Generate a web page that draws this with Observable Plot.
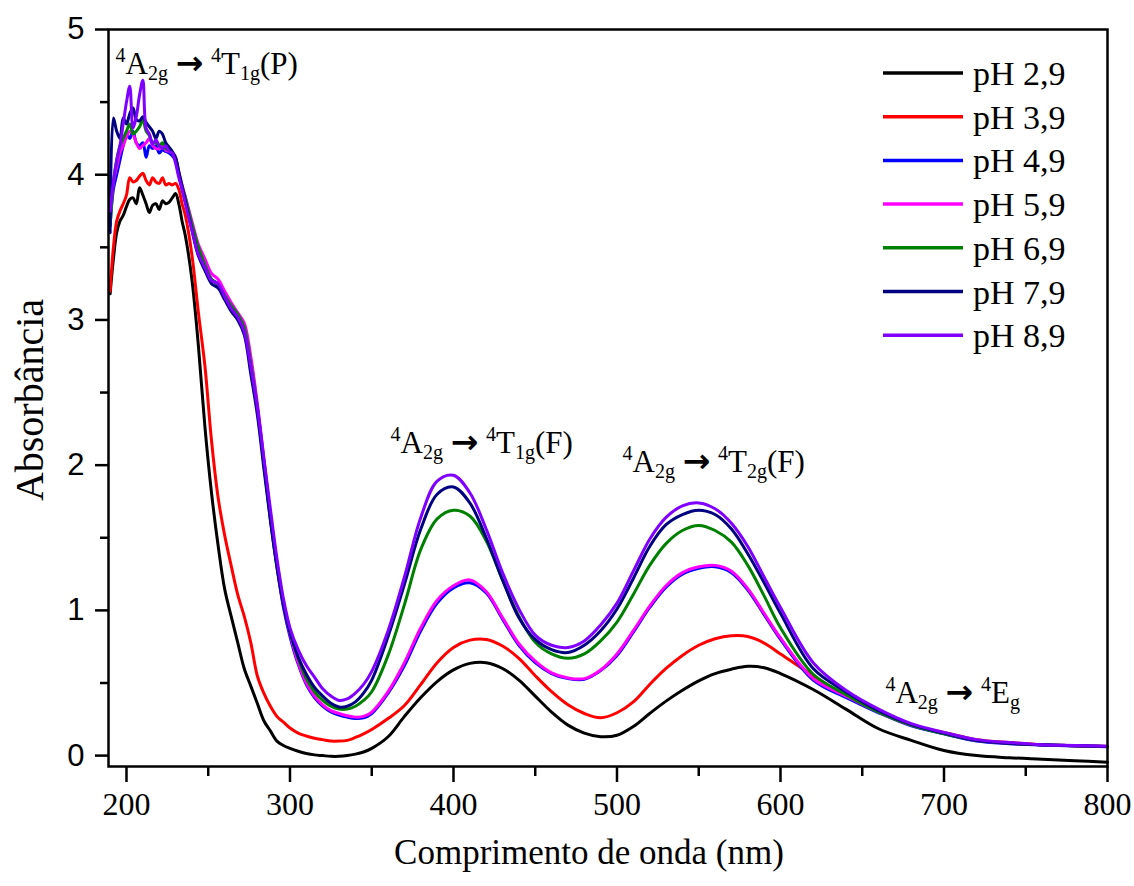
<!DOCTYPE html>
<html><head><meta charset="utf-8">
<script src="https://cdn.jsdelivr.net/npm/d3@7"></script>
<script src="https://cdn.jsdelivr.net/npm/@observablehq/plot@0.6"></script>
<style>body{margin:0;background:#fff}</style>
</head><body><div id="chart"></div>
<script>
const wavelength = [190,192,194,196,198,200,202,204,206,208,
210,212,214,216,218,220,222,224,226,228,
230,232,234,236,240,244,248,252,256,260,
264,268,272,276,280,284,288,292,296,300,
305,310,315,320,325,330,335,340,345,350,
360,370,380,390,400,410,420,430,440,450,
460,470,480,490,500,510,520,530,540,550,
560,570,580,590,600,620,640,660,680,700,
720,740,760,780,800];

const pH29 = [3.18,3.42,3.60,3.68,3.72,3.78,3.83,3.84,3.80,3.91,
3.86,3.80,3.74,3.79,3.80,3.76,3.82,3.80,3.81,3.84,
3.87,3.80,3.68,3.58,3.28,2.82,2.26,1.81,1.45,1.15,
0.96,0.78,0.60,0.48,0.36,0.24,0.17,0.10,0.07,0.05,
0.03,0.015,0.005,0.0,-0.005,-0.005,0.0,0.01,0.025,0.05,
0.13,0.27,0.40,0.51,0.59,0.635,0.64,0.60,0.52,0.41,
0.30,0.21,0.155,0.13,0.14,0.20,0.29,0.375,0.45,0.515,
0.565,0.595,0.615,0.605,0.565,0.455,0.32,0.185,0.105,0.035,
0.0,-0.015,-0.025,-0.035,-0.045];

const pH39 = [3.20,3.50,3.68,3.75,3.80,3.86,3.98,3.95,3.96,3.99,
4.01,3.96,3.93,3.98,3.95,3.94,3.98,3.93,3.94,3.93,
3.94,3.90,3.80,3.72,3.45,3.05,2.68,2.17,1.78,1.52,
1.31,1.11,0.96,0.78,0.55,0.43,0.34,0.27,0.23,0.19,
0.155,0.135,0.12,0.11,0.10,0.10,0.105,0.125,0.15,0.18,
0.255,0.345,0.49,0.64,0.745,0.795,0.80,0.755,0.67,0.55,
0.44,0.35,0.29,0.26,0.295,0.37,0.49,0.60,0.69,0.76,
0.805,0.825,0.82,0.775,0.70,0.55,0.41,0.30,0.21,0.16,
0.11,0.09,0.075,0.068,0.063];

const pH49 = [3.65,3.90,4.00,4.10,4.20,4.28,4.25,4.30,4.22,4.20,
4.22,4.12,4.20,4.18,4.20,4.15,4.17,4.16,4.15,4.13,
4.10,4.00,3.90,3.82,3.64,3.48,3.38,3.28,3.25,3.17,
3.10,3.03,2.95,2.72,2.40,2.02,1.63,1.30,1.02,0.82,
0.63,0.49,0.40,0.34,0.30,0.28,0.265,0.255,0.26,0.29,
0.43,0.62,0.86,1.05,1.155,1.19,1.12,0.94,0.76,0.64,
0.565,0.53,0.525,0.585,0.69,0.85,1.02,1.16,1.25,1.29,
1.30,1.26,1.14,0.97,0.80,0.52,0.40,0.295,0.205,0.15,
0.10,0.082,0.072,0.066,0.061];

const pH59 = [3.70,3.95,4.05,4.15,4.20,4.26,4.30,4.28,4.22,4.18,
4.20,4.22,4.25,4.20,4.18,4.18,4.20,4.17,4.16,4.15,
4.12,4.02,3.93,3.85,3.68,3.52,3.42,3.32,3.28,3.20,
3.12,3.05,2.98,2.75,2.43,2.05,1.66,1.32,1.04,0.84,
0.64,0.50,0.41,0.35,0.31,0.29,0.275,0.265,0.27,0.30,
0.44,0.64,0.88,1.07,1.17,1.21,1.13,0.95,0.77,0.65,
0.57,0.535,0.53,0.59,0.70,0.86,1.03,1.17,1.26,1.30,
1.31,1.27,1.15,0.98,0.81,0.53,0.41,0.30,0.21,0.155,
0.105,0.085,0.075,0.068,0.063];

const pH69 = [3.65,3.95,4.10,4.20,4.25,4.30,4.35,4.28,4.30,4.33,
4.38,4.30,4.27,4.22,4.22,4.20,4.22,4.18,4.17,4.15,
4.10,4.00,3.92,3.84,3.66,3.50,3.38,3.28,3.24,3.17,
3.10,3.04,2.95,2.70,2.40,2.02,1.66,1.33,1.06,0.86,
0.67,0.53,0.44,0.38,0.34,0.32,0.32,0.34,0.38,0.44,
0.69,1.04,1.42,1.63,1.69,1.65,1.48,1.21,0.96,0.78,
0.70,0.67,0.70,0.79,0.92,1.11,1.31,1.46,1.55,1.585,
1.55,1.47,1.31,1.10,0.88,0.56,0.42,0.30,0.21,0.15,
0.105,0.085,0.075,0.068,0.063];

const pH79 = [3.60,4.39,4.30,4.25,4.39,4.35,4.42,4.46,4.38,4.37,
4.40,4.36,4.33,4.30,4.25,4.30,4.28,4.22,4.19,4.16,
4.12,4.02,3.92,3.82,3.62,3.44,3.34,3.25,3.22,3.14,
3.06,3.00,2.90,2.63,2.35,1.98,1.62,1.30,1.04,0.85,
0.68,0.56,0.47,0.41,0.36,0.335,0.34,0.37,0.43,0.52,
0.82,1.18,1.56,1.80,1.85,1.74,1.50,1.21,0.95,0.80,
0.73,0.71,0.76,0.86,1.01,1.22,1.44,1.59,1.66,1.69,
1.66,1.56,1.39,1.19,0.98,0.60,0.44,0.31,0.215,0.155,
0.105,0.085,0.075,0.068,0.063];

const pH89 = [3.75,3.95,4.10,4.20,4.35,4.50,4.61,4.32,4.40,4.55,
4.65,4.32,4.28,4.21,4.24,4.20,4.18,4.20,4.16,4.15,
4.08,3.98,3.90,3.80,3.62,3.45,3.36,3.27,3.25,3.16,
3.08,3.02,2.92,2.68,2.40,2.05,1.70,1.36,1.08,0.88,
0.73,0.62,0.54,0.46,0.41,0.38,0.39,0.43,0.49,0.58,
0.86,1.23,1.64,1.89,1.93,1.81,1.56,1.26,1.01,0.83,
0.76,0.745,0.79,0.90,1.05,1.27,1.49,1.64,1.72,1.74,
1.70,1.60,1.44,1.23,1.02,0.64,0.45,0.32,0.22,0.16,
0.11,0.09,0.075,0.07,0.065];

const seriesNames = ["pH 2,9","pH 3,9","pH 4,9","pH 5,9","pH 6,9","pH 7,9","pH 8,9"];
const seriesValues = [pH29, pH39, pH49, pH59, pH69, pH79, pH89];
const seriesColors = ["#000000","#ff0000","#0000ff","#ff00ff","#008000","#000080","#8000ff"];

const xTicks = [200,300,400,500,600,700,800];
const xMinorTicks = [250,350,450,550,650,750];
const yTicks = [0,1,2,3,4,5];
const yMinorTicks = [0.5,1.5,2.5,3.5,4.5];

const annotationText = ["^{4}A_{2g} → ^{4}T_{1g}(P)","^{4}A_{2g} → ^{4}T_{1g}(F)","^{4}A_{2g} → ^{4}T_{2g}(F)","^{4}A_{2g} → ^{4}E_{g}"];
const annotationX = [193.3, 361.5, 503.4, 664.2];
const annotationY = [4.697, 2.087, 1.950, 0.359];

const xTitle = "Comprimento de onda (nm)";
const yTitle = "Absorbância";

const table = seriesNames.flatMap((name, i) =>
  wavelength.map((w, j) => ({wl: w, A: seriesValues[i][j], series: name})));

const W = 1134, H = 886, mL = 108, mR = 27, mT = 29, mB = 120;
const serif = "Liberation Serif, Times New Roman, serif";
const sans = "Liberation Sans, Arial, sans-serif";

const svg = Plot.plot({
  width: W, height: H,
  marginLeft: mL, marginRight: mR, marginTop: mT, marginBottom: mB,
  style: {background: "#fff", overflow: "visible"},
  x: {domain: [189, 800]},
  y: {domain: [-0.075, 5]},
  color: {domain: seriesNames, range: seriesColors},
  marks: [
    Plot.line(table, {x: "wl", y: "A", z: "series", stroke: "series", strokeWidth: 3, curve: "catmull-rom"}),
    Plot.text(d3.range(annotationText.length), {
      x: i => annotationX[i], y: i => annotationY[i], text: i => annotationText[i],
      textAnchor: "start", lineAnchor: "bottom", fontFamily: serif, fontSize: 31, fill: "black"
    }),
    Plot.axisX({ticks: xTicks, tickSize: 16, tickPadding: 10, fontSize: 32, fontFamily: serif, strokeWidth: 2.5, label: null, tickFormat: d => String(d)}),
    Plot.axisX({ticks: xMinorTicks, tickSize: 10, strokeWidth: 2.5, label: null, tickFormat: () => ""}),
    Plot.axisY({ticks: yTicks, tickSize: 13, tickPadding: 11, fontSize: 31, fontFamily: sans, strokeWidth: 2.5, label: null, tickFormat: d => String(d)}),
    Plot.axisY({ticks: yMinorTicks, tickSize: 8, strokeWidth: 2.5, label: null, tickFormat: () => ""}),
    Plot.frame({stroke: "black", strokeWidth: 2.5})
  ]
});

// rich text (super/subscripts) for annotations
const NS = "http://www.w3.org/2000/svg";
function richText(el, src) {
  const base = 31, small = 20;
  el.textContent = "";
  const re = /\^\{([^}]*)\}|_\{([^}]*)\}|(→)|([^^_→]+)/g;
  let m, cur = 0;
  while ((m = re.exec(src))) {
    let target = 0, size = base, content, fam = null, weight = null;
    if (m[1] != null) { target = -12; size = small; content = m[1]; }
    else if (m[2] != null) { target = 6; size = small; content = m[2]; }
    else if (m[3] != null) { content = "\u2192"; fam = "DejaVu Sans, sans-serif"; weight = "bold"; size = 33; }
    else content = m[4];
    const t = document.createElementNS(NS, "tspan");
    t.setAttribute("dy", target - cur); cur = target;
    t.setAttribute("font-size", size);
    if (fam) t.setAttribute("font-family", fam);
    if (weight) t.setAttribute("font-weight", weight);
    t.textContent = content;
    el.appendChild(t);
  }
}
svg.querySelectorAll("text").forEach(el => {
  const s = el.textContent;
  if (annotationText.includes(s)) richText(el, s);
});

const g = d3.select(svg).append("g").attr("text-anchor", "start");
// legend
seriesNames.forEach((name, i) => {
  const y = 73 + i * 43.7;
  g.append("line").attr("x1", 883).attr("x2", 963).attr("y1", y).attr("y2", y)
    .attr("stroke", seriesColors[i]).attr("stroke-width", 3.5);
  g.append("text").attr("x", 973).attr("y", y + 12).attr("text-anchor", "start").attr("font-family", serif)
    .attr("font-size", 34).attr("fill", "black").text(name);
});
// axis titles
g.append("text").attr("x", 589).attr("y", 864).attr("text-anchor", "middle")
  .attr("font-family", serif).attr("font-size", 35).attr("fill", "black").text(xTitle);
g.append("text").attr("transform", "translate(43,400) rotate(-90)").attr("text-anchor", "middle")
  .attr("font-family", serif).attr("font-size", 40).attr("fill", "black").text(yTitle);

document.getElementById("chart").appendChild(svg);
</script>
</body></html>
